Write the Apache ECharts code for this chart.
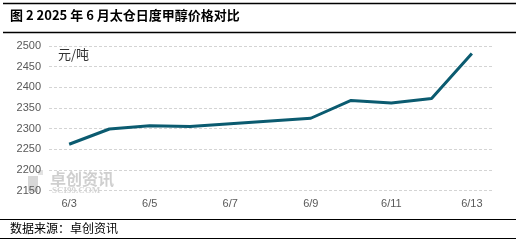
<!DOCTYPE html>
<html><head><meta charset="utf-8">
<script src="https://cdn.jsdelivr.net/npm/echarts@6/dist/echarts.min.js"></script>
<style>html,body{margin:0;padding:0;background:#fff}#c{width:516px;height:245px}</style>
</head><body><div id="c"></div>
<script>
const categories = ['6/3','6/4','6/5','6/6','6/7','6/8','6/9','6/10','6/11','6/12','6/13'];
const prices = [2262, 2299, 2307, 2305, null, null, 2325, 2368, 2362, 2373, 2482];
const yTicks = [2150, 2200, 2250, 2300, 2350, 2400, 2450, 2500];
const titleText = '图 2 2025 年 6 月太仓日度甲醇价格对比';
const sourceText = '数据来源：卓创资讯';
const unitText = '元/吨';

const chart = echarts.init(document.getElementById('c'), null, {renderer:'canvas'});
chart.setOption({
  animation:false,
  grid:{left:49, right:24, top:46, bottom:54.5, containLabel:false},
  xAxis:{type:'category', data:categories, boundaryGap:true,
    axisLine:{show:false}, axisTick:{show:false},
    axisLabel:{interval:1, color:'#595959', fontSize:11, fontFamily:'Liberation Sans, Arial', margin:8}},
  yAxis:{type:'value', min:yTicks[0], max:yTicks[yTicks.length-1], interval:50,
    axisLine:{show:false}, axisTick:{show:false},
    axisLabel:{color:'#595959', fontSize:11, fontFamily:'Liberation Sans, Arial', margin:8,
      formatter:function(v){return String(v);}},
    splitLine:{lineStyle:{color:'#d4d4d4', type:[3,2], width:1}}},
  series:[{type:'line', data:prices, connectNulls:true, symbol:'none',
    lineStyle:{color:'#0b5b70', width:3}, itemStyle:{color:'#0b5b70'}}],
  graphic:[
    {type:'line', shape:{x1:3,y1:3.5,x2:516,y2:3.5}, style:{stroke:'#000', lineWidth:1.5}},
    {type:'line', shape:{x1:3,y1:32.5,x2:516,y2:32.5}, style:{stroke:'#000', lineWidth:1.5}},
    {type:'text', left:10, top:9, style:{text:titleText, fill:'#000', font:'bold 13px "Noto Sans CJK SC", sans-serif'}},
    {type:'text', left:58, top:48, style:{text:unitText, fill:'#333', font:'13px "Noto Sans CJK SC", sans-serif'}},
    {type:'rect', shape:{x:28,y:176,width:10,height:16}, style:{fill:'#d8d8d8'}},
    {type:'rect', shape:{x:38,y:170,width:5,height:5}, style:{fill:'#e2e2e2'}},
    {type:'text', left:50, top:171, style:{text:'卓创资讯', fill:'#cfcfcf', font:'bold 16px "Noto Sans CJK SC", sans-serif'}},
    {type:'text', left:52, top:186, style:{text:'SCI99.COM', fill:'#d4d4d4', font:'bold 9px "Liberation Serif", serif'}},
    {type:'line', shape:{x1:0,y1:219.5,x2:516,y2:219.5}, style:{stroke:'#000', lineWidth:1.2}},
    {type:'line', shape:{x1:0,y1:238.5,x2:516,y2:238.5}, style:{stroke:'#000', lineWidth:1.2}},
    {type:'text', left:10, top:222, style:{text:sourceText, fill:'#000', font:'12px "Noto Sans CJK SC", sans-serif'}}
  ]
});
</script></body></html>
